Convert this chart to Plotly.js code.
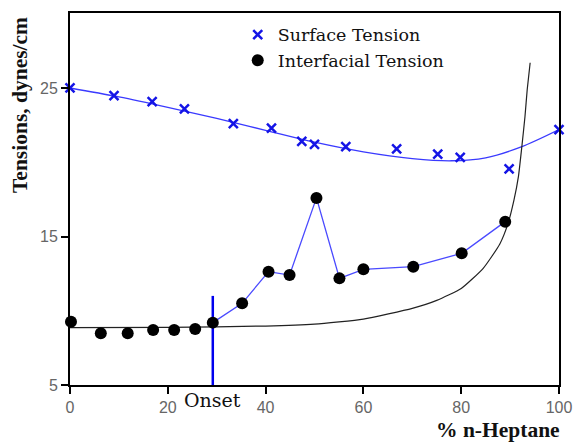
<!DOCTYPE html>
<html><head><meta charset="utf-8">
<script src="https://cdn.plot.ly/plotly-3.0.1.min.js"></script>
<style>html,body{margin:0;padding:0;background:#fff}</style>
</head><body><div id="chart" style="width:573px;height:442px"></div>
<script>
// Surface tension measurements
const surfaceX = [0, 9.0, 16.8, 23.4, 33.4, 41.2, 47.4, 50.0, 56.4, 66.8, 75.2, 79.8, 89.8, 100];
const surfaceY = [25.0, 24.48, 24.08, 23.6, 22.6, 22.3, 21.4, 21.2, 21.05, 20.9, 20.55, 20.33, 19.55, 22.2];
// Surface tension fitted curve
const surfaceFitX = [0, 10, 20, 30, 40, 50, 60, 70, 78, 85, 92, 100];
const surfaceFitY = [25.0, 24.4, 23.7, 22.95, 22.15, 21.35, 20.7, 20.25, 20.1, 20.3, 21.0, 22.2];
// Interfacial tension measurements
const interX = [0.2, 6.3, 11.8, 17.0, 21.3, 25.6, 29.2, 35.2, 40.6, 44.9, 50.4, 55.1, 60.0, 70.2, 80.1, 89.0];
const interY = [9.26, 8.48, 8.48, 8.7, 8.7, 8.77, 9.2, 10.5, 12.63, 12.4, 17.6, 12.18, 12.79, 12.97, 13.87, 16.0];
const onsetIndex = 6;
// Model curve (black)
const modelX = [0, 20, 40, 50, 60, 70, 75, 80, 84.5, 87.9, 89.6, 90.8, 91.7, 92.4, 93.05, 93.5, 94.1];
const modelY = [8.86, 8.88, 8.97, 9.1, 9.44, 10.16, 10.7, 11.5, 12.86, 14.5, 15.9, 17.46, 19.03, 21.05, 23.1, 24.9, 26.7];
// Onset marker
const onsetX = [29.2, 29.2];
const onsetY = [5, 11];
const xTicks = [0, 20, 40, 60, 80, 100];
const yTicks = [5, 15, 25];

const traces = [
  {x: surfaceFitX, y: surfaceFitY, mode: 'lines', line: {color: '#3a3aff', width: 1.3, shape: 'spline'}, showlegend: false, hoverinfo: 'skip'},
  {x: modelX, y: modelY, mode: 'lines', line: {color: '#222', width: 1.2, shape: 'spline', smoothing: 0.5}, showlegend: false, hoverinfo: 'skip'},
  {x: interX.slice(onsetIndex), y: interY.slice(onsetIndex), mode: 'lines', line: {color: '#4a4aff', width: 1.3}, showlegend: false, hoverinfo: 'skip'},
  {x: onsetX, y: onsetY, mode: 'lines', line: {color: '#0000ee', width: 2.5}, showlegend: false, hoverinfo: 'skip'},
  {x: surfaceX, y: surfaceY, mode: 'markers', name: 'Surface Tension', cliponaxis: false,
   marker: {symbol: 'x-thin', size: 9, line: {width: 2.5, color: '#1414e6'}}},
  {x: interX, y: interY, mode: 'markers', name: 'Interfacial Tension', cliponaxis: false,
   marker: {symbol: 'circle', size: 12, color: '#000'}}
];

const axisCommon = {
  showline: true, linewidth: 2, linecolor: '#000', mirror: true,
  ticks: 'outside', ticklen: 7, tickwidth: 2, tickcolor: '#000',
  showgrid: false, zeroline: false,
  tickfont: {family: 'Liberation Sans, Arial, sans-serif', size: 16, color: '#666'}
};

const layout = {
  width: 573, height: 442,
  margin: {l: 70, r: 14, t: 13, b: 57},
  paper_bgcolor: '#fff', plot_bgcolor: '#fff',
  xaxis: Object.assign({}, axisCommon, {range: [0, 100], tickmode: 'array', tickvals: xTicks, ticktext: xTicks.map(String)}),
  yaxis: Object.assign({}, axisCommon, {range: [5, 30.05], tickmode: 'array', tickvals: yTicks, ticktext: yTicks.map(String)}),
  legend: {x: 0.343, y: 0.99, xanchor: 'left', yanchor: 'top', bgcolor: 'rgba(0,0,0,0)',
    font: {family: 'DejaVu Serif, serif', size: 17.5, color: '#111'}},
  showlegend: true,
  annotations: [
    {text: 'Tensions, dynes/cm', xref: 'paper', yref: 'paper', x: -0.102, y: 0.753, textangle: -90,
     showarrow: false, xanchor: 'center', yanchor: 'middle',
     font: {family: 'Liberation Serif, Times New Roman, serif', size: 21.5, color: '#111', weight: 'bold'}},
    {text: '% n-Heptane', xref: 'paper', yref: 'paper', x: 1.006, y: -0.121, xanchor: 'right', yanchor: 'middle',
     showarrow: false, font: {family: 'Liberation Serif, Times New Roman, serif', size: 21.5, color: '#111', weight: 'bold'}},
    {text: 'Onset', xref: 'x', yref: 'paper', x: onsetX[0], y: -0.040, xanchor: 'center', yanchor: 'middle',
     showarrow: false, font: {family: 'DejaVu Serif, serif', size: 19, color: '#111'}}
  ]
};

Plotly.newPlot('chart', traces, layout, {displayModeBar: false, staticPlot: true});
</script>
</body></html>
